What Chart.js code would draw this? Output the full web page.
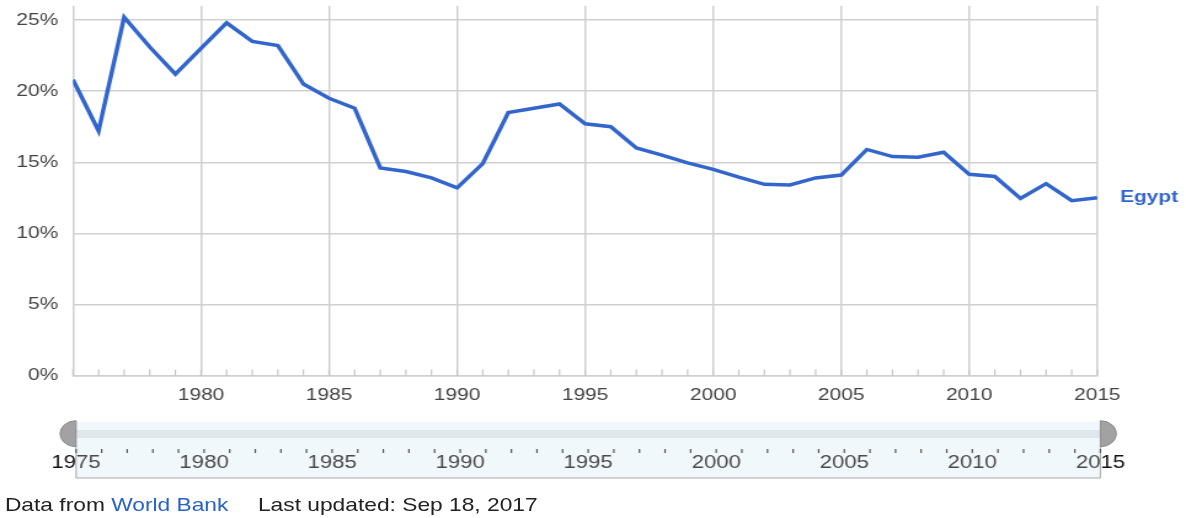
<!DOCTYPE html>
<html>
<head>
<meta charset="utf-8">
<script src="https://cdn.jsdelivr.net/npm/chart.js@4/dist/chart.umd.min.js"></script>
<style>
  html, body { margin: 0; padding: 0; background: #fff; overflow: hidden; }
  /* the reference picture is stretched sideways, so the whole drawing is too */
  #wrap {
    position: relative; width: 964px; height: 518px;
    transform: scaleX(1.2303); transform-origin: 0 0;
    font-family: Arial, "Liberation Sans", sans-serif;
  }
  #chart { position: absolute; left: 0; top: 0; }
  #footer {
    position: absolute; left: 4px; top: 494px;
    font-size: 18.5px; line-height: 22px; color: #222; white-space: nowrap;
  }
  #footer a { color: #2a62c6; text-decoration: none; }
  #footer .upd { margin-left: 24px; }
</style>
</head>
<body>
<div id="wrap">
  <canvas id="chart" width="964" height="518"></canvas>
  <div id="footer">Data from <a>World Bank</a><span class="upd">Last updated: Sep 18, 2017</span></div>
</div>
<script>
const seriesName = "Egypt";

const years = [
  1975, 1976, 1977, 1978, 1979, 1980, 1981, 1982, 1983, 1984,
  1985, 1986, 1987, 1988, 1989, 1990, 1991, 1992, 1993, 1994,
  1995, 1996, 1997, 1998, 1999, 2000, 2001, 2002, 2003, 2004,
  2005, 2006, 2007, 2008, 2009, 2010, 2011, 2012, 2013, 2014, 2015
];

const values = [
  20.8, 17.2, 25.2, 23.1, 21.2, 23.0, 24.8, 23.5, 23.2, 20.5,
  19.5, 18.8, 14.6, 14.35, 13.9, 13.2, 14.9, 18.5, 18.8, 19.1,
  17.7, 17.5, 16.0, 15.5, 14.95, 14.5, 13.95, 13.45, 13.4, 13.9,
  14.1, 15.9, 15.4, 15.35, 15.7, 14.15, 14.0, 12.45, 13.5, 12.3, 12.5
];

const xTicks = [1975, 1980, 1985, 1990, 1995, 2000, 2005, 2010, 2015];
const yTicks = [0, 5, 10, 15, 20, 25];

const lineColor = "#3366cc";
const gridColor = "#d0d0d0";

// minor year ticks, series label and the range slider underneath
const extras = {
  id: "extras",
  beforeDatasetsDraw(chart) {
    const { ctx, chartArea, scales: { x } } = chart;
    ctx.save();
    ctx.strokeStyle = "#c4c4c4";
    ctx.lineWidth = 1.2;
    years.forEach((yr) => {
      const px = x.getPixelForValue(yr);
      ctx.beginPath();
      ctx.moveTo(px, chartArea.bottom);
      ctx.lineTo(px, chartArea.bottom - 6);
      ctx.stroke();
    });
    ctx.restore();
  },
  afterDraw(chart) {
    const { ctx, chartArea, scales: { x, y } } = chart;
    ctx.save();

    // series name at the end of the line
    ctx.font = "bold 17px Arial, 'Liberation Sans', sans-serif";
    ctx.fillStyle = lineColor;
    ctx.textAlign = "left";
    ctx.textBaseline = "middle";
    ctx.fillText(seriesName, chartArea.right + 18.5, y.getPixelForValue(values[values.length - 1]));

    // range slider
    const sx = (v) => x.getPixelForValue(v) + 2.5;
    const left = sx(years[0]);
    const right = sx(years[years.length - 1]);
    const top = 421.7, bottom = 478, hy = 433.7;

    ctx.fillStyle = "#f1f8fb";
    ctx.fillRect(left, top, right - left, bottom - top);
    ctx.fillStyle = "#dfe8ec";
    ctx.fillRect(left, 430, right - left, 8);

    ctx.strokeStyle = "#a8a8a8";
    ctx.lineWidth = 1;
    ctx.beginPath();
    ctx.moveTo(left, 446);
    ctx.lineTo(left, bottom);
    ctx.lineTo(right, bottom);
    ctx.lineTo(right, 446);
    ctx.stroke();

    ctx.strokeStyle = "#555";
    ctx.lineWidth = 1.2;
    years.forEach((yr) => {
      ctx.beginPath();
      ctx.moveTo(sx(yr), 449);
      ctx.lineTo(sx(yr), 453);
      ctx.stroke();
    });

    ctx.font = "18px Arial, 'Liberation Sans', sans-serif";
    ctx.textAlign = "center";
    ctx.textBaseline = "middle";
    // grey inside the band
    ctx.save();
    ctx.beginPath();
    ctx.rect(left, top, right - left, bottom - top);
    ctx.clip();
    ctx.fillStyle = "#4a4a4a";
    xTicks.forEach((v) => ctx.fillText(String(v), sx(v), 463.5));
    ctx.restore();
    // dark outside it
    ctx.save();
    ctx.beginPath();
    ctx.rect(0, top, left, bottom - top);
    ctx.rect(right, top, chart.width - right, bottom - top);
    ctx.clip();
    ctx.fillStyle = "#111";
    xTicks.forEach((v) => ctx.fillText(String(v), sx(v), 463.5));
    ctx.restore();

    // handles
    ctx.fillStyle = "#a2a2a2";
    ctx.strokeStyle = "#8a8a8a";
    ctx.lineWidth = 1;
    ctx.beginPath();
    ctx.arc(left, hy, 13, Math.PI / 2, Math.PI * 1.5);
    ctx.closePath();
    ctx.fill();
    ctx.stroke();
    ctx.beginPath();
    ctx.arc(right, hy, 13, -Math.PI / 2, Math.PI / 2);
    ctx.closePath();
    ctx.fill();
    ctx.stroke();

    ctx.restore();
  }
};

new Chart(document.getElementById("chart").getContext("2d"), {
  type: "line",
  data: {
    datasets: [
      {
        label: seriesName,
        data: years.map((yr, i) => ({ x: yr, y: values[i] })),
        borderColor: lineColor,
        borderWidth: 3.5,
        pointRadius: 0,
        fill: false,
        tension: 0,
      },
    ],
  },
  options: {
    responsive: false,
    animation: false,
    devicePixelRatio: 1,
    layout: { padding: { top: 5.8, left: 0, right: 72.1, bottom: 102.4 } },
    plugins: { legend: { display: false }, tooltip: { enabled: false } },
    scales: {
      x: {
        type: "linear",
        min: 1975,
        max: 2015,
        afterBuildTicks: (scale) => { scale.ticks = xTicks.map((v) => ({ value: v })); },
        afterFit: (scale) => {
          scale.height = 40;
          scale.paddingLeft = 0;
          scale.paddingRight = 0;
        },
        grid: { color: gridColor, lineWidth: 1.5, drawTicks: false },
        border: { color: gridColor, width: 1.5 },
        ticks: {
          padding: 10,
          maxRotation: 0,
          color: "#444",
          font: { family: "Arial, 'Liberation Sans', sans-serif", size: 17 },
          callback: (v) => (v === xTicks[0] ? "" : String(v)),
        },
      },
      y: {
        min: 0,
        max: 26,
        afterBuildTicks: (scale) => { scale.ticks = yTicks.map((v) => ({ value: v })); },
        afterFit: (scale) => {
          scale.width = 59.3;
          scale.paddingTop = 0;
          scale.paddingBottom = 0;
        },
        grid: { color: gridColor, lineWidth: 1.5, drawTicks: false },
        border: { display: false },
        ticks: {
          padding: 12,
          color: "#444",
          font: { family: "Arial, 'Liberation Sans', sans-serif", size: 17 },
          callback: (v) => v + "%",
        },
      },
    },
  },
  plugins: [extras],
});
</script>
</body>
</html>
